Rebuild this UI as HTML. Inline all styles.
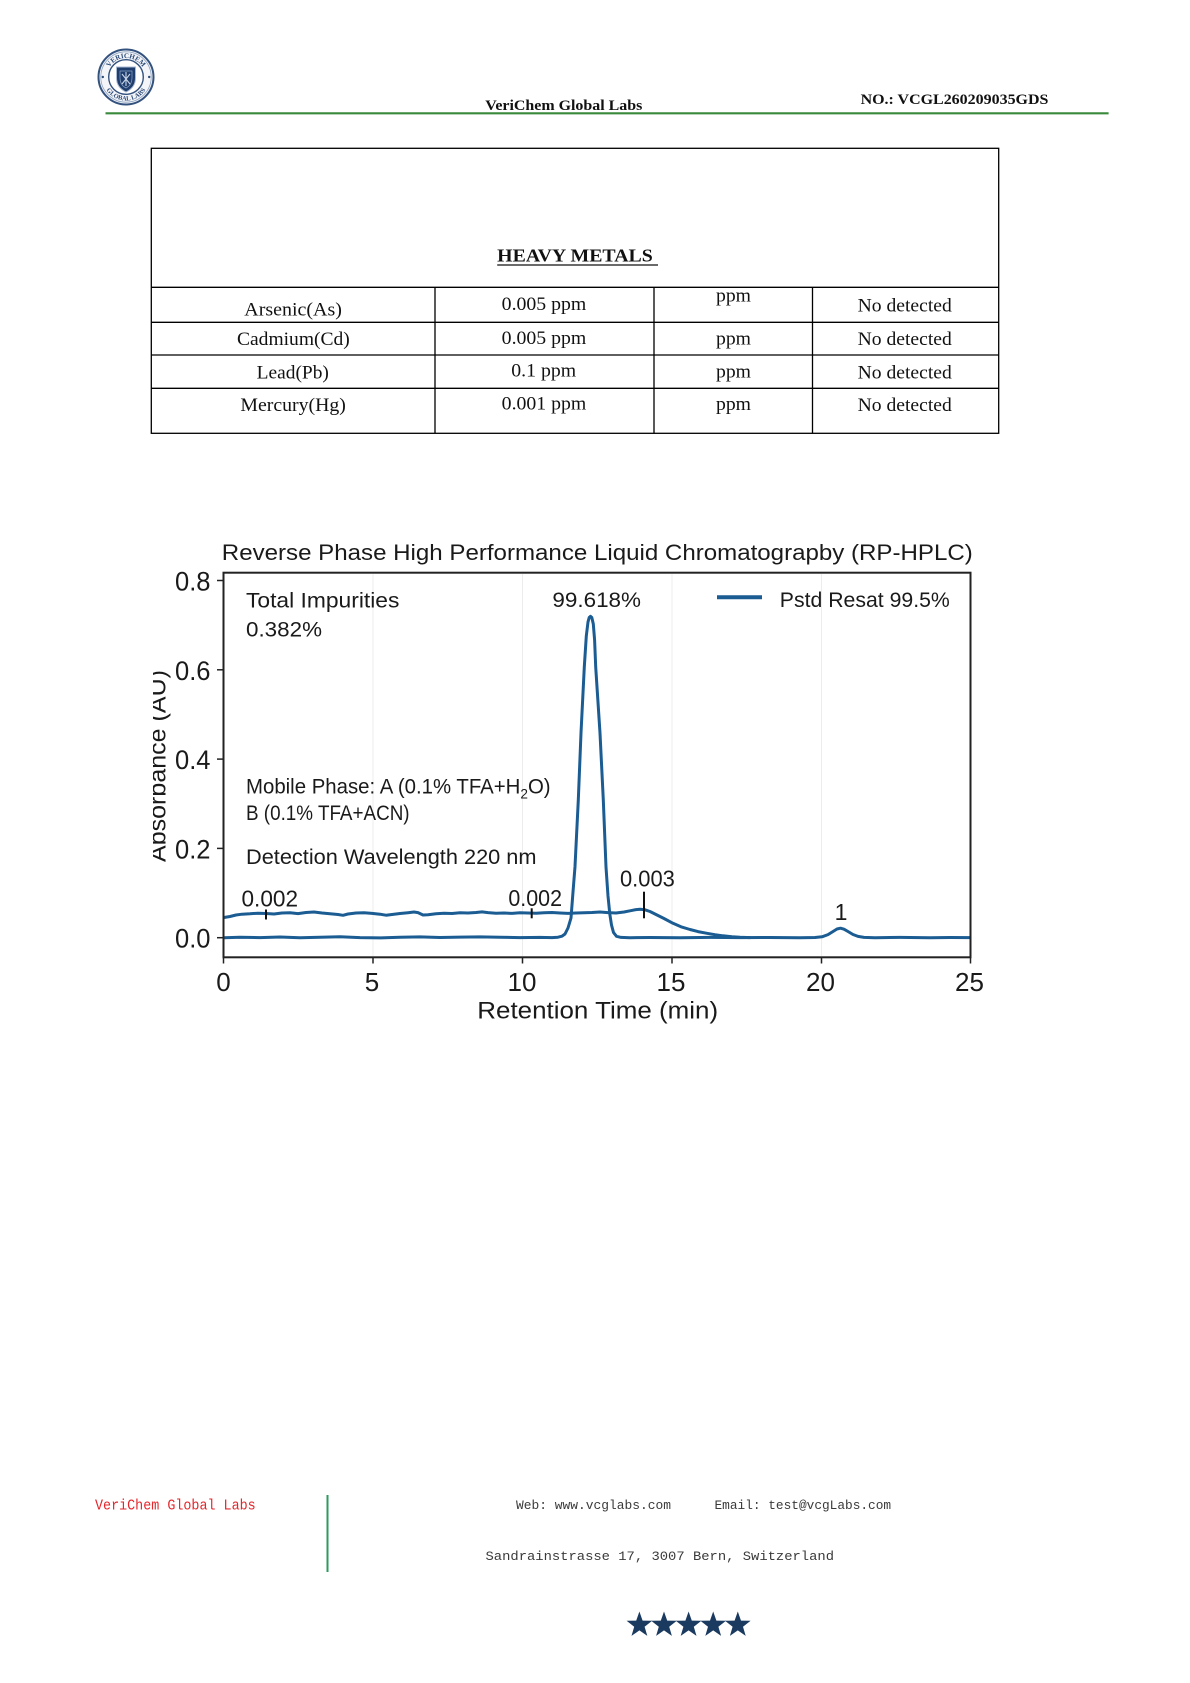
<!DOCTYPE html>
<html>
<head>
<meta charset="utf-8">
<style>
html,body{margin:0;padding:0;background:#fff;}
svg{display:block;}
</style>
</head>
<body>
<svg width="1190" height="1683" viewBox="0 0 1190 1683" xmlns="http://www.w3.org/2000/svg">
<defs>
  <clipPath id="ylab"><rect x="153" y="600" width="40" height="300"/></clipPath>
  <path id="arcTop" d="M 107,77 A 19 19 0 0 1 145,77"/>
  <path id="arcBot" d="M 102.5,77 A 23.5 23.5 0 0 0 149.5,77"/>
</defs>
<rect x="0" y="0" width="1190" height="1683" fill="#fff"/>

<!-- ===== Header ===== -->
<g>
  <circle cx="126" cy="77" r="27.5" fill="#f3f5f9" stroke="#34527e" stroke-width="2"/>
  <circle cx="126" cy="77" r="25.2" fill="none" stroke="#8fa3bf" stroke-width="0.8"/>
  <circle cx="126" cy="77" r="17.3" fill="#fff" stroke="#34527e" stroke-width="1.4"/>
  <text font-family="Liberation Serif, serif" font-size="7" font-weight="bold" fill="#2c4a78"><textPath href="#arcTop" startOffset="50%" text-anchor="middle">VERICHEM</textPath></text>
  <text font-family="Liberation Serif, serif" font-size="6.5" font-weight="bold" fill="#2c4a78"><textPath href="#arcBot" startOffset="50%" text-anchor="middle">GLOBAL LABS</textPath></text>
  <circle cx="102.8" cy="77" r="1.2" fill="#2c4a78"/>
  <circle cx="149.2" cy="77" r="1.2" fill="#2c4a78"/>
  <path d="M116.5,67 L135.5,67 L135.5,78 Q135.5,87.5 126,92 Q116.5,87.5 116.5,78 Z" fill="#1f3e6e" stroke="#a9bad3" stroke-width="1"/>
  <path d="M120,71 L132,71 L132,78 Q132,85 126,88 Q120,85 120,78 Z" fill="none" stroke="#8ea6c8" stroke-width="0.7"/>
  <path d="M122,74 L130,84 M130,74 L122,84 M126,72 L126,86" stroke="#c9d5e7" stroke-width="1.1" fill="none"/>

  <text x="485.3" y="110" font-family="Liberation Serif, serif" font-size="15" font-weight="bold" fill="#111" textLength="157" lengthAdjust="spacingAndGlyphs">VeriChem Global Labs</text>
  <text x="860.6" y="104" font-family="Liberation Serif, serif" font-size="15" font-weight="bold" fill="#111" textLength="187.8" lengthAdjust="spacingAndGlyphs">NO.: VCGL260209035GDS</text>
  <line x1="105.5" y1="113.3" x2="1108.6" y2="113.3" stroke="#3a8a3c" stroke-width="2.2"/>
</g>

<!-- ===== Table ===== -->
<g stroke="#000" stroke-width="1.3" fill="none">
  <rect x="151.3" y="148.3" width="847.4" height="285"/>
  <line x1="151.3" y1="287.3" x2="998.7" y2="287.3"/>
  <line x1="151.3" y1="322.3" x2="998.7" y2="322.3"/>
  <line x1="151.3" y1="355" x2="998.7" y2="355"/>
  <line x1="151.3" y1="388.3" x2="998.7" y2="388.3"/>
  <line x1="435" y1="287.3" x2="435" y2="433.3"/>
  <line x1="654" y1="287.3" x2="654" y2="433.3"/>
  <line x1="812.5" y1="287.3" x2="812.5" y2="433.3"/>
</g>
<g font-family="Liberation Serif, serif" fill="#111">
  <text x="497.2" y="261.7" font-size="18" font-weight="bold" textLength="155.6" lengthAdjust="spacingAndGlyphs">HEAVY METALS</text>
  <line x1="497.2" y1="265" x2="658" y2="265" stroke="#111" stroke-width="1.3"/>

  <g font-size="19">
    <text x="244.3" y="315.7" textLength="97.6" lengthAdjust="spacingAndGlyphs">Arsenic(As)</text>
    <text x="501.7" y="310" textLength="84.6" lengthAdjust="spacingAndGlyphs">0.005 ppm</text>
    <text x="716" y="301.7" textLength="35" lengthAdjust="spacingAndGlyphs">ppm</text>
    <text x="857.6" y="311.7" textLength="94.2" lengthAdjust="spacingAndGlyphs">No detected</text>

    <text x="237" y="345" textLength="112.8" lengthAdjust="spacingAndGlyphs">Cadmium(Cd)</text>
    <text x="501.7" y="344" textLength="84.6" lengthAdjust="spacingAndGlyphs">0.005 ppm</text>
    <text x="716" y="344.5" textLength="35" lengthAdjust="spacingAndGlyphs">ppm</text>
    <text x="857.6" y="345" textLength="94.2" lengthAdjust="spacingAndGlyphs">No detected</text>

    <text x="256.7" y="378.3" textLength="72.2" lengthAdjust="spacingAndGlyphs">Lead(Pb)</text>
    <text x="511.3" y="376.7" textLength="64.8" lengthAdjust="spacingAndGlyphs">0.1 ppm</text>
    <text x="716" y="377.3" textLength="35" lengthAdjust="spacingAndGlyphs">ppm</text>
    <text x="857.6" y="378.3" textLength="94.2" lengthAdjust="spacingAndGlyphs">No detected</text>

    <text x="240.4" y="411" textLength="105.5" lengthAdjust="spacingAndGlyphs">Mercury(Hg)</text>
    <text x="501.7" y="409.3" textLength="84.6" lengthAdjust="spacingAndGlyphs">0.001 ppm</text>
    <text x="716" y="410" textLength="35" lengthAdjust="spacingAndGlyphs">ppm</text>
    <text x="857.6" y="411" textLength="94.2" lengthAdjust="spacingAndGlyphs">No detected</text>
  </g>
</g>

<!-- ===== Chart ===== -->
<g>
  <g stroke="#ececec" stroke-width="1">
    <line x1="373" y1="574" x2="373" y2="956"/>
    <line x1="522.5" y1="574" x2="522.5" y2="956"/>
    <line x1="672" y1="574" x2="672" y2="956"/>
    <line x1="821.5" y1="574" x2="821.5" y2="956"/>
  </g>

  <text x="221.8" y="560" font-family="Liberation Sans, sans-serif" font-size="22" fill="#1a1a1a" textLength="751" lengthAdjust="spacingAndGlyphs">Reverse Phase High Performance Liquid Chromatograpby (RP-HPLC)</text>

  <g fill="none" stroke="#1b5c93" stroke-width="3" stroke-linejoin="round" stroke-linecap="round">
    <polyline points="224,917.5 230,916.5 236,915 242,914.2 250,913.8 258,913.2 266,913.5 274,914 282,913 290,912.8 298,913.6 306,912.5 314,912 322,913 330,913.8 338,914.5 343,915.3 348,914 356,913 364,912.8 372,913.4 380,914.2 386,915.2 392,914.5 400,913.5 408,912.7 414,912 418,912.6 423,915 428,914.8 436,913.8 444,913.2 452,913.5 460,912.8 468,913 476,912.5 482,911.9 488,912.6 496,913.2 504,913 512,913.4 520,912.8 528,913 536,913.3 544,912.8 552,912.5 560,913 568,913.4 576,913 584,912.8 592,912.5 600,912 608,912.6 616,913 624,912 630,910.8 636,909.6 640,909.3 645,909.8 650,911.5 656,914.5 664,918.5 673,923.3 681,926.8 690,929.5 698,931.6 707,933.3 715,934.7 723,935.8 732,936.7 740,937.3 750,937.6"/>
    <polyline points="224,937.8 240,937.2 260,937.6 280,937.0 300,937.8 320,937.3 340,936.8 360,937.6 380,937.9 400,937.2 420,936.9 440,937.5 460,937.1 480,936.9 500,937.3 520,937.6 540,937.4 552,937.6 558,937.2 562,936.2 565,934 568,928 571,918 573,892 575,866.7 578.3,800 581,733 584.3,667 586.3,636 588,622 589.2,617.5 590.5,616.3 591.8,617.5 593.3,624 594.6,640 595.7,667 600,733 603.3,800 606,867 608,896 609.8,914 611.5,925 613.5,932.5 616.5,936.3 621,937.4 630,937.7 650,937.5 680,937.8 710,937.4 740,937.6 770,937.5 800,937.7 815,937.5 822,936.8 828,934.6 833,931.5 837,929 840.5,928.2 844,929.2 848,931.5 853,934.5 858,936.4 864,937.4 875,937.7 900,937.4 930,937.7 950,937.5 970,937.6"/>
  </g>

  <g stroke="#111" stroke-width="2">
    <line x1="266" y1="909.5" x2="266" y2="919.5"/>
    <line x1="531.7" y1="908.3" x2="531.7" y2="918.3"/>
    <line x1="644" y1="891.7" x2="644" y2="918.3"/>
  </g>

  <g stroke="#222" stroke-width="2" fill="none">
    <rect x="223.5" y="572.7" width="747" height="384.6"/>
  </g>
  <g stroke="#222" stroke-width="1.5">
    <line x1="217" y1="937.7" x2="223.5" y2="937.7"/>
    <line x1="217" y1="848.4" x2="223.5" y2="848.4"/>
    <line x1="217" y1="759.1" x2="223.5" y2="759.1"/>
    <line x1="217" y1="669.8" x2="223.5" y2="669.8"/>
    <line x1="217" y1="580.5" x2="223.5" y2="580.5"/>
    <line x1="223.5" y1="957.3" x2="223.5" y2="963.5"/>
    <line x1="373" y1="957.3" x2="373" y2="963.5"/>
    <line x1="522.5" y1="957.3" x2="522.5" y2="963.5"/>
    <line x1="672" y1="957.3" x2="672" y2="963.5"/>
    <line x1="821.5" y1="957.3" x2="821.5" y2="963.5"/>
    <line x1="970.5" y1="957.3" x2="970.5" y2="963.5"/>
  </g>

  <g font-family="Liberation Sans, sans-serif" fill="#1a1a1a">
    <g font-size="27" text-anchor="end">
      <text x="210.5" y="947.7" textLength="35.5" lengthAdjust="spacingAndGlyphs">0.0</text>
      <text x="210.5" y="858.4" textLength="35.5" lengthAdjust="spacingAndGlyphs">0.2</text>
      <text x="210.5" y="769.1" textLength="35.5" lengthAdjust="spacingAndGlyphs">0.4</text>
      <text x="210.5" y="679.8" textLength="35.5" lengthAdjust="spacingAndGlyphs">0.6</text>
      <text x="210.5" y="590.5" textLength="35.5" lengthAdjust="spacingAndGlyphs">0.8</text>
    </g>
    <g font-size="26" text-anchor="middle">
      <text x="223.5" y="991">0</text>
      <text x="372" y="991">5</text>
      <text x="522" y="991">10</text>
      <text x="671" y="991">15</text>
      <text x="820.5" y="991">20</text>
      <text x="969.5" y="991">25</text>
    </g>
    <text x="477.3" y="1018.3" font-size="24" textLength="240.8" lengthAdjust="spacingAndGlyphs">Retention Time (min)</text>

    <g clip-path="url(#ylab)">
      <text transform="translate(165.5,766) rotate(-90)" x="0" y="0" font-size="24" text-anchor="middle" textLength="192" lengthAdjust="spacingAndGlyphs">Absorbance (AU)</text>
    </g>

    <g font-size="21">
      <text x="246" y="607.3" textLength="153.4" lengthAdjust="spacingAndGlyphs">Total Impurities</text>
      <text x="246" y="636.7" textLength="76" lengthAdjust="spacingAndGlyphs">0.382%</text>
      <text x="552.4" y="607" textLength="88.6" lengthAdjust="spacingAndGlyphs">99.618%</text>
      <text x="779.8" y="607" textLength="170" lengthAdjust="spacingAndGlyphs">Pstd Resat 99.5%</text>
      <text x="246" y="793.5" textLength="304.6" lengthAdjust="spacingAndGlyphs">Mobile Phase: A (0.1% TFA+H<tspan font-size="14" dy="5">2</tspan><tspan dy="-5">O)</tspan></text>
      <text x="246" y="820" textLength="163.6" lengthAdjust="spacingAndGlyphs">B (0.1% TFA+ACN)</text>
      <text x="246" y="864" textLength="290.5" lengthAdjust="spacingAndGlyphs">Detection Wavelength 220 nm</text>
    </g>
    <g font-size="23">
      <text x="241.5" y="906.7" textLength="56.5" lengthAdjust="spacingAndGlyphs">0.002</text>
      <text x="508.4" y="906" textLength="53.6" lengthAdjust="spacingAndGlyphs">0.002</text>
      <text x="620" y="886.7" textLength="54.8" lengthAdjust="spacingAndGlyphs">0.003</text>
      <text x="841" y="920" text-anchor="middle">1</text>
    </g>
  </g>
  <line x1="717" y1="597.3" x2="762" y2="597.3" stroke="#1b5c93" stroke-width="4"/>
</g>

<!-- ===== Footer ===== -->
<g>
  <text x="95" y="1509.5" font-family="Liberation Mono, monospace" font-size="15" fill="#e3262b" textLength="160.7" lengthAdjust="spacingAndGlyphs">VeriChem Global Labs</text>
  <line x1="327.5" y1="1495" x2="327.5" y2="1572" stroke="#2e9a5e" stroke-width="2"/>
  <g font-family="Liberation Mono, monospace" font-size="13" fill="#3a3a3a">
    <text x="516" y="1509" textLength="155" lengthAdjust="spacingAndGlyphs">Web: www.vcglabs.com</text>
    <text x="714.5" y="1509" textLength="176.6" lengthAdjust="spacingAndGlyphs">Email: test@vcgLabs.com</text>
    <text x="485.5" y="1560" textLength="348.5" lengthAdjust="spacingAndGlyphs">Sandrainstrasse 17, 3007 Bern, Switzerland</text>
  </g>
  <g fill="#1b3a5f">
    <polygon transform="translate(639.4,1625)" points="0,-13.5 3.2,-4.4 12.8,-4.2 5.2,1.7 7.9,10.9 0,5.4 -7.9,10.9 -5.2,1.7 -12.8,-4.2 -3.2,-4.4"/>
    <polygon transform="translate(664,1625)" points="0,-13.5 3.2,-4.4 12.8,-4.2 5.2,1.7 7.9,10.9 0,5.4 -7.9,10.9 -5.2,1.7 -12.8,-4.2 -3.2,-4.4"/>
    <polygon transform="translate(688.6,1625)" points="0,-13.5 3.2,-4.4 12.8,-4.2 5.2,1.7 7.9,10.9 0,5.4 -7.9,10.9 -5.2,1.7 -12.8,-4.2 -3.2,-4.4"/>
    <polygon transform="translate(713.2,1625)" points="0,-13.5 3.2,-4.4 12.8,-4.2 5.2,1.7 7.9,10.9 0,5.4 -7.9,10.9 -5.2,1.7 -12.8,-4.2 -3.2,-4.4"/>
    <polygon transform="translate(737.8,1625)" points="0,-13.5 3.2,-4.4 12.8,-4.2 5.2,1.7 7.9,10.9 0,5.4 -7.9,10.9 -5.2,1.7 -12.8,-4.2 -3.2,-4.4"/>
  </g>
</g>
</svg>
</body>
</html>
